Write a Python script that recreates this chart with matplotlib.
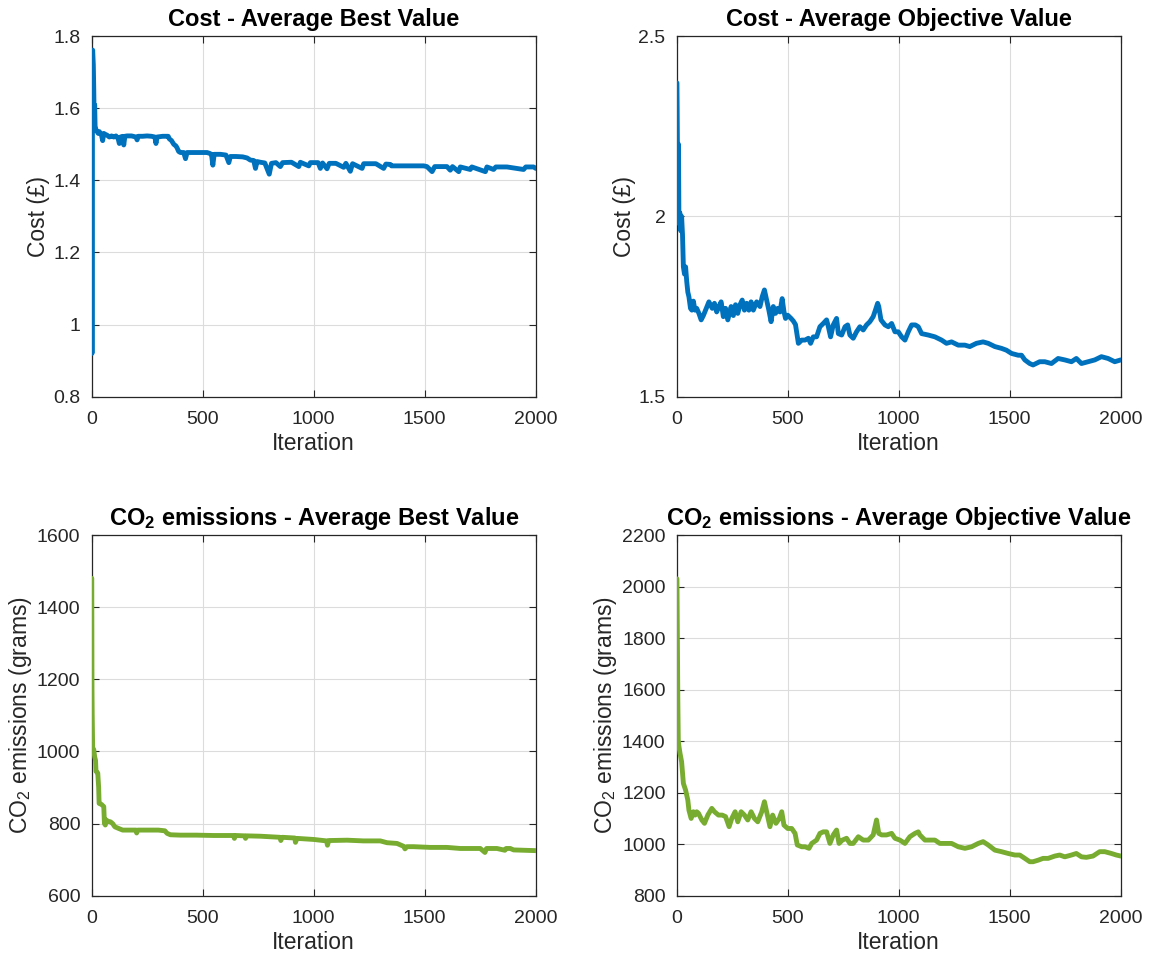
import matplotlib
matplotlib.use("Agg")
import matplotlib.pyplot as plt

# ---------------- data ----------------
cost_best_iter = [1, 2, 3, 5, 8, 10, 12, 14, 16, 20, 25, 30, 35, 40, 45, 50, 55, 60, 70, 80, 90, 100, 110, 120, 125, 130,
                  140, 145, 150, 160, 180, 200, 205, 210, 230, 250, 270, 285, 290, 295, 320, 345, 350, 360, 370, 380,
                  385, 392, 400, 415, 423, 430, 480, 520, 530, 540, 546, 552, 580, 605, 618, 625, 650, 680, 700, 715,
                  730, 738, 745, 760, 780, 800, 810, 830, 850, 860, 900, 933, 940, 978, 985, 1020, 1030, 1040, 1060,
                  1070, 1100, 1135, 1145, 1165, 1175, 1218, 1225, 1280, 1315, 1325, 1345, 1350, 1400, 1450, 1495,
                  1510, 1533, 1545, 1600, 1615, 1625, 1653, 1660, 1705, 1712, 1773, 1780, 1810, 1820, 1870, 1945,
                  1955, 1990, 2000]
cost_best_val = [1.715, 0.92, 1.74, 1.761, 1.72, 1.65, 1.56, 1.609, 1.55, 1.54, 1.535, 1.53, 1.535, 1.53, 1.525, 1.51,
                 1.53, 1.528, 1.525, 1.52, 1.523, 1.52, 1.523, 1.515, 1.502, 1.52, 1.522, 1.498, 1.522, 1.523, 1.523,
                 1.52, 1.512, 1.522, 1.522, 1.523, 1.522, 1.52, 1.502, 1.52, 1.522, 1.522, 1.515, 1.51, 1.50, 1.495,
                 1.49, 1.48, 1.477, 1.477, 1.46, 1.477, 1.477, 1.477, 1.475, 1.472, 1.442, 1.472, 1.472, 1.47, 1.449,
                 1.466, 1.466, 1.465, 1.462, 1.456, 1.455, 1.433, 1.452, 1.45, 1.448, 1.417, 1.447, 1.449, 1.438,
                 1.449, 1.45, 1.438, 1.45, 1.44, 1.449, 1.449, 1.433, 1.448, 1.432, 1.447, 1.447, 1.436, 1.447,
                 1.425, 1.446, 1.433, 1.446, 1.446, 1.433, 1.445, 1.444, 1.440, 1.44, 1.44, 1.44, 1.438, 1.424,
                 1.438, 1.438, 1.428, 1.438, 1.424, 1.437, 1.43, 1.437, 1.424, 1.437, 1.43, 1.437, 1.437, 1.43,
                 1.437, 1.437, 1.433]

cost_obj_iter = [1, 2, 4, 6, 8, 10, 14, 18, 22, 26, 30, 35, 40, 45, 50, 55, 62, 68, 75, 82, 90, 100, 110, 120, 130,
                 145, 160, 170, 180, 190, 200, 210, 220, 230, 245, 255, 265, 275, 285, 295, 305, 315, 325, 335, 345,
                 360, 375, 385, 395, 405, 415, 425, 435, 445, 455, 465, 475, 483, 490, 500, 515, 525, 535, 548, 563,
                 578, 593, 603, 615, 630, 645, 660, 675, 683, 693, 705, 720, 728, 743, 758, 770, 780, 795, 810, 825,
                 840, 855, 870, 885, 895, 905, 910, 920, 938, 953, 968, 983, 998, 1013, 1028, 1043, 1058, 1075, 1088,
                 1103, 1133, 1163, 1193, 1215, 1238, 1268, 1298, 1320, 1350, 1380, 1403, 1433, 1463, 1485, 1508, 1538,
                 1553, 1568, 1590, 1605, 1635, 1658, 1688, 1718, 1748, 1778, 1800, 1823, 1853, 1883, 1913, 1943, 1973,
                 2000]
cost_obj_val = [2.37, 2.30, 2.12, 2.05, 2.20, 1.98, 2.01, 1.96, 2.00, 1.95, 1.86, 1.84, 1.86, 1.82, 1.79, 1.777, 1.745,
                1.74, 1.765, 1.74, 1.745, 1.731, 1.713, 1.725, 1.74, 1.763, 1.745, 1.759, 1.735, 1.75, 1.763, 1.722,
                1.745, 1.713, 1.75, 1.725, 1.755, 1.731, 1.755, 1.768, 1.74, 1.759, 1.74, 1.763, 1.74, 1.763, 1.75,
                1.777, 1.796, 1.768, 1.74, 1.708, 1.75, 1.731, 1.745, 1.735, 1.772, 1.736, 1.717, 1.726, 1.717, 1.71,
                1.70, 1.648, 1.657, 1.657, 1.662, 1.648, 1.666, 1.666, 1.694, 1.703, 1.713, 1.694, 1.666, 1.699, 1.717,
                1.675, 1.671, 1.694, 1.699, 1.671, 1.662, 1.68, 1.694, 1.685, 1.699, 1.708, 1.722, 1.74, 1.759, 1.75,
                1.713, 1.699, 1.694, 1.703, 1.68, 1.68, 1.666, 1.657, 1.68, 1.699, 1.699, 1.694, 1.675, 1.671, 1.666,
                1.657, 1.648, 1.652, 1.643, 1.643, 1.639, 1.648, 1.652, 1.648, 1.639, 1.634, 1.629, 1.62, 1.615,
                1.615, 1.602, 1.592, 1.588, 1.597, 1.597, 1.592, 1.606, 1.602, 1.597, 1.606, 1.592, 1.597, 1.602,
                1.611, 1.606, 1.597, 1.602]

co2_best_iter = [1, 2, 3, 5, 10, 14, 18, 20, 28, 32, 34, 45, 55, 58, 62, 66, 75, 85, 95, 105, 120, 140, 170, 200, 203,
                 208, 250, 300, 330, 340, 355, 400, 470, 550, 640, 643, 648, 690, 693, 698, 760, 848, 852, 858, 915,
                 918, 925, 1000, 1058, 1062, 1068, 1150, 1225, 1300, 1330, 1375, 1405, 1411, 1420, 1450, 1525, 1600,
                 1660, 1750, 1771, 1778, 1825, 1861, 1866, 1885, 1900, 2000]
co2_best_val = [1480, 1175, 1100, 1010, 1005, 985, 975, 945, 940, 900, 856, 853, 847, 800, 796, 810, 806, 805, 800, 791,
                787, 782, 782, 782, 774, 782, 782, 782, 780, 773, 769, 768, 768, 767, 767, 759, 767, 766, 759, 766,
                765, 762, 753, 762, 760, 748, 759, 756, 752, 740, 753, 754, 752, 752, 747, 745, 737, 730, 736, 736,
                734, 734, 731, 731, 720, 731, 731, 726, 731, 731, 727, 725]

co2_obj_iter = [1, 3, 5, 7, 10, 15, 22, 30, 40, 50, 55, 65, 75, 83, 90, 98, 113, 125, 140, 158, 170, 188, 205, 220,
                236, 248, 263, 275, 290, 305, 320, 335, 350, 365, 383, 395, 405, 420, 432, 447, 462, 473, 483, 500,
                518, 533, 543, 563, 578, 596, 608, 630, 645, 660, 675, 690, 705, 720, 731, 746, 765, 780, 795, 818,
                840, 863, 885, 900, 910, 923, 945, 968, 983, 1005, 1028, 1050, 1073, 1088, 1095, 1118, 1140, 1163,
                1185, 1215, 1238, 1268, 1298, 1328, 1358, 1380, 1403, 1433, 1463, 1493, 1523, 1545, 1568, 1590,
                1605, 1628, 1650, 1673, 1703, 1725, 1748, 1778, 1800, 1823, 1845, 1875, 1905, 1928, 1958, 1980, 2000]
co2_obj_val = [2030, 1800, 1560, 1404, 1380, 1352, 1320, 1236, 1210, 1171, 1132, 1100, 1126, 1113, 1126, 1120, 1094,
               1081, 1113, 1139, 1126, 1113, 1113, 1107, 1068, 1100, 1126, 1087, 1126, 1113, 1094, 1126, 1100, 1087,
               1126, 1165, 1126, 1068, 1113, 1081, 1100, 1126, 1074, 1061, 1061, 1042, 997, 990, 990, 984, 1003,
               1016, 1042, 1048, 1048, 1003, 1036, 1055, 1003, 1016, 1023, 1003, 1003, 1029, 1016, 1016, 1036, 1094,
               1042, 1036, 1036, 1042, 1023, 1016, 1003, 1029, 1042, 1048, 1036, 1016, 1016, 1016, 1003, 1003, 1003,
               990, 984, 990, 1003, 1010, 997, 977, 971, 964, 958, 958, 945, 932, 932, 938, 945, 945, 954, 958, 951,
               958, 964, 951, 949, 954, 971, 971, 964, 958, 954]

titles = ["Cost - Average Best Value", "Cost - Average Objective Value",
          "CO$_2$ emissions - Average Best Value", "CO$_2$ emissions - Average Objective Value"]
ylabels = ["Cost (£)", "Cost (£)", "CO$_2$ emissions (grams)", "CO$_2$ emissions (grams)"]
xlabel = "Iteration"
xticks = [0, 500, 1000, 1500, 2000]
yticks_list = [[0.8, 1.0, 1.2, 1.4, 1.6, 1.8], [1.5, 2.0, 2.5],
               [600, 800, 1000, 1200, 1400, 1600], [800, 1000, 1200, 1400, 1600, 1800, 2000, 2200]]
ytick_labels = [["0.8", "1", "1.2", "1.4", "1.6", "1.8"], ["1.5", "2", "2.5"],
                ["600", "800", "1000", "1200", "1400", "1600"],
                ["800", "1000", "1200", "1400", "1600", "1800", "2000", "2200"]]

BLUE = "#0072BD"
GREEN = "#77AC30"

plt.rcParams["font.family"] = ["Liberation Sans", "DejaVu Sans"]
plt.rcParams["mathtext.fontset"] = "custom"
plt.rcParams["mathtext.rm"] = "Liberation Sans"
plt.rcParams["mathtext.it"] = "Liberation Sans"
plt.rcParams["mathtext.bf"] = "Liberation Sans:bold"
plt.rcParams["mathtext.default"] = "regular"

fig = plt.figure(figsize=(11.56, 9.58), dpi=100)
positions = [[0.0792, 0.5859, 0.3843, 0.3765], [0.5854, 0.5859, 0.3841, 0.3765],
             [0.0792, 0.0650, 0.3843, 0.3765], [0.5854, 0.0650, 0.3841, 0.3765]]
series = [(cost_best_iter, cost_best_val, BLUE), (cost_obj_iter, cost_obj_val, BLUE),
          (co2_best_iter, co2_best_val, GREEN), (co2_obj_iter, co2_obj_val, GREEN)]

edge = "#262626"
for i in range(4):
    ax = fig.add_axes(positions[i])
    xs, ys, col = series[i]
    ax.plot(xs, ys, color=col, lw=3.5, solid_joinstyle="round", solid_capstyle="round", zorder=3)
    ax.set_xlim(0, 2000)
    yt = yticks_list[i]
    ax.set_ylim(yt[0], yt[-1])
    ax.set_xticks(xticks)
    ax.set_xticklabels([str(t) for t in xticks])
    ax.set_yticks(yt)
    ax.set_yticklabels(ytick_labels[i])
    ax.grid(True, color="#dcdcdc", lw=0.8, zorder=0)
    ax.tick_params(direction="in", length=5, width=0.8, top=True, right=True,
                   labelsize=14, colors=edge)
    ax.tick_params(axis="x", pad=10)
    ax.tick_params(axis="y", pad=8)
    for s in ax.spines.values():
        s.set_color(edge)
        s.set_linewidth(0.9)
    ax.set_title(titles[i], fontsize=17, fontweight="bold", color="black", pad=7)
    ax.set_xlabel(xlabel, fontsize=16.5, color=edge, labelpad=3)
    ax.set_ylabel(ylabels[i], fontsize=16.5, color=edge, labelpad=2)

fig.savefig("out.png", dpi=100)
